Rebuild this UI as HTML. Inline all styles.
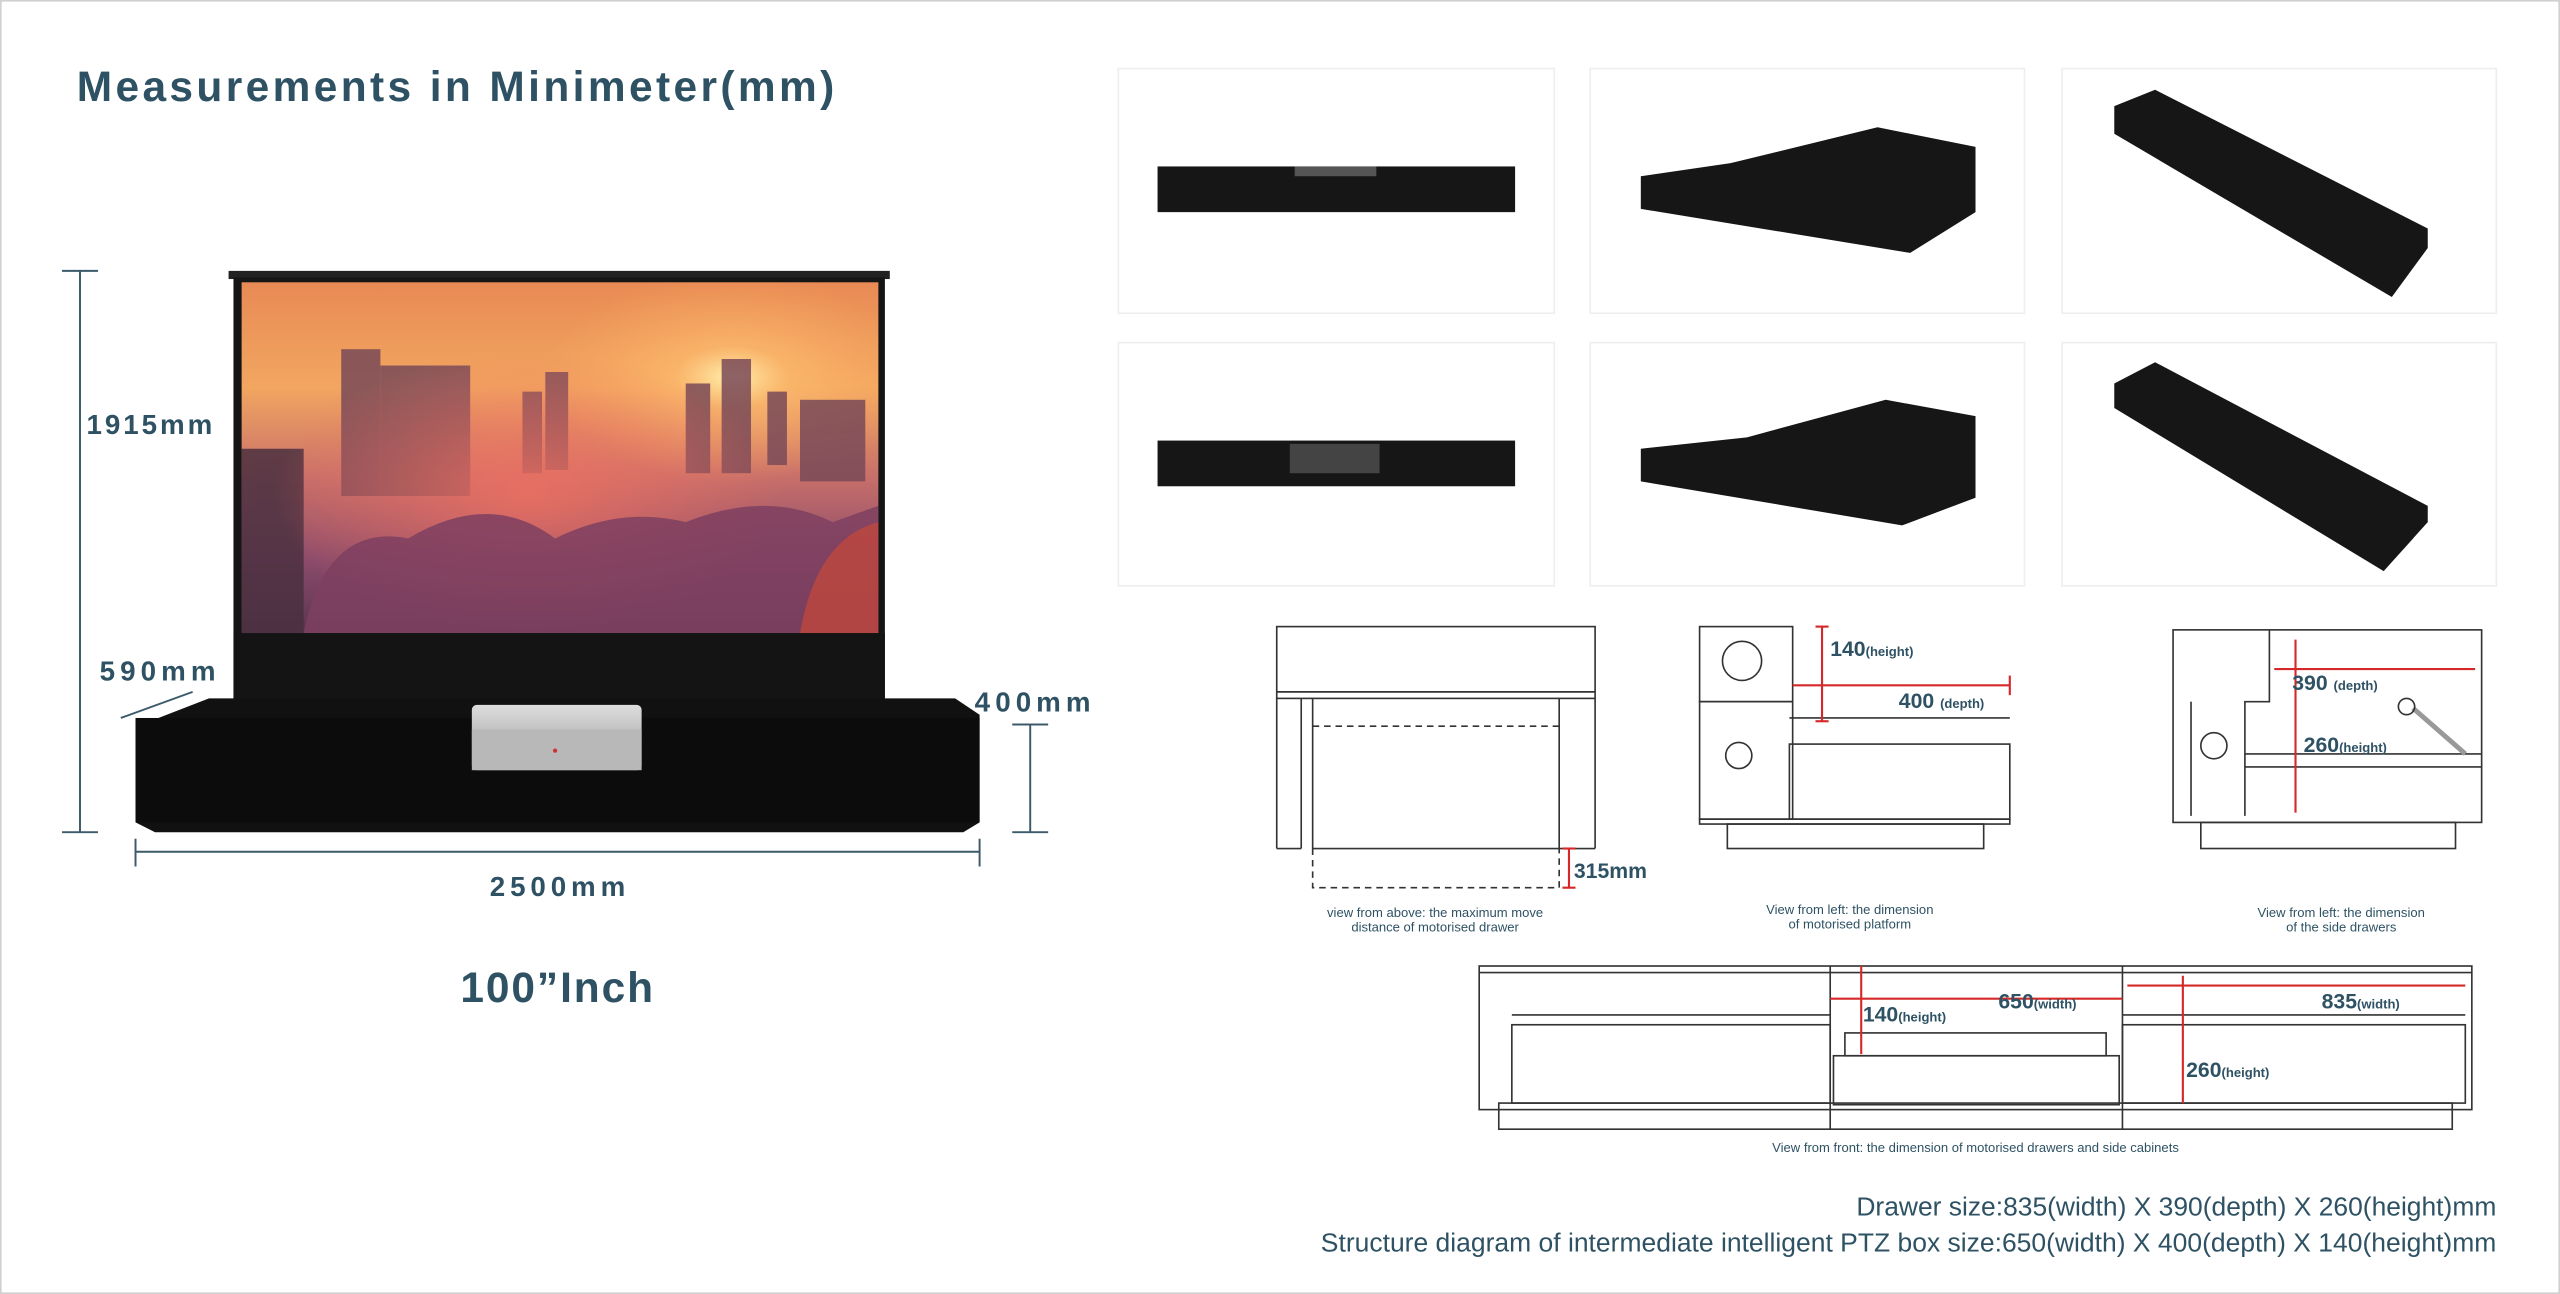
<!DOCTYPE html>
<html><head><meta charset="utf-8"><style>
html,body{margin:0;padding:0;background:#fff;}
svg{display:block;}
text{font-family:"Liberation Sans","DejaVu Sans",sans-serif;}
</style></head><body>
<svg width="2560" height="1294" viewBox="0 0 1568 793" preserveAspectRatio="none" xmlns="http://www.w3.org/2000/svg">
<defs>
<linearGradient id="sky" x1="0" y1="0" x2="0" y2="1">
<stop offset="0" stop-color="#e88a55"/><stop offset="0.3" stop-color="#f2a660"/><stop offset="0.55" stop-color="#c9706a"/><stop offset="0.8" stop-color="#8a4a6a"/><stop offset="1" stop-color="#5a3550"/></linearGradient>
<radialGradient id="sun" cx="0.77" cy="0.27" r="0.3"><stop offset="0" stop-color="#fff2b0"/><stop offset="0.3" stop-color="#ffc070" stop-opacity="0.6"/><stop offset="1" stop-color="#ffb060" stop-opacity="0"/></radialGradient>
<radialGradient id="fog" cx="0.45" cy="0.6" r="0.4"><stop offset="0" stop-color="#f07060" stop-opacity="0.8"/><stop offset="1" stop-color="#f07060" stop-opacity="0"/></radialGradient>
<linearGradient id="box" x1="0" y1="0" x2="0" y2="1"><stop offset="0" stop-color="#ddd"/><stop offset="1" stop-color="#999"/></linearGradient>
</defs>
<rect x="0.5" y="0.5" width="1567" height="792" fill="#fff" stroke="#d0d0d0"/>
<text x="47" y="62" font-size="26" font-weight="bold" fill="#2e5264" textLength="464" lengthAdjust="spacing">Measurements in Minimeter(mm)</text>

<!-- screen -->
<rect x="140" y="166" width="405" height="5" fill="#222"/>
<rect x="143" y="170" width="399" height="260" fill="#151515"/>
<rect x="148" y="173" width="390" height="215" fill="url(#sky)"/>
<rect x="148" y="173" width="390" height="215" fill="url(#sun)"/>
<g fill="#7a4a58" opacity="0.85">
<rect x="209" y="214" width="24" height="90"/><rect x="233" y="224" width="55" height="80"/>
<rect x="148" y="275" width="38" height="113" fill="#4a3040"/>
<rect x="320" y="240" width="12" height="50"/><rect x="334" y="228" width="14" height="60"/>
<rect x="442" y="220" width="18" height="70"/><rect x="420" y="235" width="15" height="55"/>
<rect x="470" y="240" width="12" height="45"/><rect x="490" y="245" width="40" height="50"/>
</g>
<rect x="148" y="173" width="390" height="215" fill="url(#fog)"/>
<path d="M186 388 Q200 320 250 330 Q300 300 340 330 Q380 310 420 320 Q470 300 510 320 L538 310 L538 388 Z" fill="#7e4060" opacity="0.85"/>
<path d="M490 388 Q500 330 538 320 L538 388Z" fill="#c84838" opacity="0.7"/>
<!-- cabinet -->
<rect x="143" y="388" width="399" height="42" fill="#141414"/>
<polygon points="97,440 128,428 585,428 600,438 600,504 590,510 95,510 83,504 83,440" fill="#111"/>
<rect x="83" y="440" width="517" height="64" fill="#0c0c0c"/>
<rect x="289" y="432" width="104" height="40" rx="3" fill="url(#box)"/>
<rect x="289" y="447" width="104" height="25" fill="#b8b8b8"/>
<circle cx="340" cy="460" r="1.3" fill="#d03030"/>

<!-- dimension lines -->
<g stroke="#3c5a6a" stroke-width="1.2" fill="none">
<line x1="49" y1="166" x2="49" y2="510"/><line x1="38" y1="166" x2="60" y2="166"/><line x1="38" y1="510" x2="60" y2="510"/>
<line x1="83" y1="522" x2="600" y2="522"/><line x1="83" y1="514" x2="83" y2="531"/><line x1="600" y1="514" x2="600" y2="531"/>
<line x1="631" y1="444" x2="631" y2="510"/><line x1="620" y1="444" x2="642" y2="444"/><line x1="620" y1="510" x2="642" y2="510"/>
<line x1="74" y1="440" x2="118" y2="424"/>
</g>
<g fill="#2e5264" font-weight="bold">
<text x="53" y="266" font-size="17" textLength="77" lengthAdjust="spacing">1915mm</text>
<text x="61" y="417" font-size="17" textLength="71" lengthAdjust="spacing">590mm</text>
<text x="597" y="436" font-size="17" textLength="71" lengthAdjust="spacing">400mm</text>
<text x="300" y="549" font-size="17" textLength="83" lengthAdjust="spacing">2500mm</text>
<text x="282" y="614" font-size="26" textLength="118" lengthAdjust="spacing">100”Inch</text>
</g>

<!-- thumbnails -->
<g fill="#fff" stroke="#eee">
<rect x="685" y="42" width="267" height="150"/><rect x="974" y="42" width="266" height="150"/><rect x="1263" y="42" width="266" height="150"/>
<rect x="685" y="210" width="267" height="149"/><rect x="974" y="210" width="266" height="149"/><rect x="1263" y="210" width="266" height="149"/>
</g>
<g fill="#161616">
<rect x="709" y="102" width="219" height="28"/><rect x="793" y="102" width="50" height="6" fill="#555"/>
<polygon points="1005,108 1060,100 1150,78 1210,90 1210,130 1170,155 1005,128"/>
<polygon points="1295,65 1320,55 1487,140 1487,152 1465,182 1295,82"/>
<rect x="709" y="270" width="219" height="28"/><rect x="790" y="272" width="55" height="18" fill="#444"/>
<polygon points="1005,275 1070,268 1155,245 1210,255 1210,305 1165,322 1005,295"/>
<polygon points="1295,235 1320,222 1487,310 1487,320 1460,350 1295,250"/>
</g>

<!-- technical diagrams -->
<g stroke="#333" stroke-width="1" fill="none">
<rect x="782" y="384" width="195" height="44"/><line x1="782" y1="424" x2="977" y2="424"/>
<line x1="782" y1="428" x2="782" y2="520"/><line x1="797" y1="428" x2="797" y2="520"/>
<line x1="955" y1="428" x2="955" y2="520"/><line x1="977" y1="428" x2="977" y2="520"/>
<line x1="782" y1="520" x2="797" y2="520"/><line x1="955" y1="520" x2="977" y2="520"/>
<line x1="804" y1="428" x2="804" y2="520"/><line x1="804" y1="520" x2="955" y2="520"/>
<path d="M804 445 H955" stroke-dasharray="4,3"/><path d="M804 520 V544 H955 V520" stroke-dasharray="4,3"/>

<rect x="1041" y="384" width="57" height="46"/><circle cx="1067" cy="405" r="12"/>
<rect x="1041" y="430" width="57" height="72"/><circle cx="1065" cy="463" r="8"/>
<rect x="1096" y="456" width="135" height="46"/><line x1="1096" y1="440" x2="1231" y2="440"/>
<rect x="1041" y="502" width="190" height="3"/><rect x="1058" y="505" width="157" height="15"/>

<rect x="1331" y="386" width="189" height="118"/>
<path d="M1390 386 V430 H1375 V500"/><line x1="1375" y1="462" x2="1520" y2="462"/><line x1="1375" y1="470" x2="1520" y2="470"/>
<circle cx="1356" cy="457" r="8"/><line x1="1342" y1="430" x2="1342" y2="500"/>
<rect x="1348" y="504" width="156" height="16"/>
<line x1="1478" y1="434" x2="1510" y2="462" stroke="#999" stroke-width="3"/><circle cx="1474" cy="433" r="5"/>

<rect x="906" y="592" width="608" height="88"/><line x1="906" y1="596" x2="1514" y2="596"/>
<rect x="918" y="676" width="584" height="16"/>
<line x1="1121" y1="592" x2="1121" y2="692"/><line x1="1300" y1="592" x2="1300" y2="692"/>
<rect x="926" y="628" width="195" height="48"/><line x1="926" y1="622" x2="1121" y2="622"/>
<rect x="1300" y="628" width="210" height="48"/><line x1="1300" y1="622" x2="1510" y2="622"/>
<rect x="1130" y="633" width="160" height="14"/><rect x="1123" y="647" width="175" height="30"/>
</g>
<g stroke="#d62828" stroke-width="1.3" fill="none">
<line x1="961" y1="520" x2="961" y2="544"/><line x1="957" y1="520" x2="965" y2="520"/><line x1="957" y1="544" x2="965" y2="544"/>
<line x1="1116" y1="384" x2="1116" y2="442"/><line x1="1112" y1="384" x2="1120" y2="384"/><line x1="1112" y1="442" x2="1120" y2="442"/>
<line x1="1098" y1="420" x2="1231" y2="420"/><line x1="1231" y1="414" x2="1231" y2="426"/>
<line x1="1406" y1="392" x2="1406" y2="498"/><line x1="1393" y1="410" x2="1516" y2="410"/>
<line x1="1140" y1="592" x2="1140" y2="646"/><line x1="1121" y1="612" x2="1300" y2="612"/>
<line x1="1303" y1="604" x2="1510" y2="604"/><line x1="1337" y1="598" x2="1337" y2="676"/>
</g>
<g fill="#2e5264" font-weight="bold">
<text x="964" y="538" font-size="13">315mm</text>
<text x="1121" y="402" font-size="13">140<tspan font-size="8">(height)</tspan></text>
<text x="1163" y="434" font-size="13">400 <tspan font-size="8">(depth)</tspan></text>
<text x="1404" y="423" font-size="13">390 <tspan font-size="8">(depth)</tspan></text>
<text x="1411" y="461" font-size="13">260<tspan font-size="8">(height)</tspan></text>
<text x="1141" y="626" font-size="13">140<tspan font-size="8">(height)</tspan></text>
<text x="1224" y="618" font-size="13">650<tspan font-size="8">(width)</tspan></text>
<text x="1422" y="618" font-size="13">835<tspan font-size="8">(width)</tspan></text>
<text x="1339" y="660" font-size="13">260<tspan font-size="8">(height)</tspan></text>
</g>
<g fill="#2e5264" font-size="8" text-anchor="middle">
<text x="879" y="562">view from above: the maximum move</text><text x="879" y="571">distance of motorised drawer</text>
<text x="1133" y="560">View from left: the dimension</text><text x="1133" y="569">of motorised platform</text>
<text x="1434" y="562">View from left: the dimension</text><text x="1434" y="571">of the side drawers</text>
<text x="1210" y="706">View from front: the dimension of motorised drawers and side cabinets</text>
</g>
<g fill="#2e5264" font-size="16">
<text x="1137" y="745" textLength="392" lengthAdjust="spacingAndGlyphs">Drawer size:835(width) X 390(depth) X 260(height)mm</text>
<text x="809" y="767" textLength="720" lengthAdjust="spacingAndGlyphs">Structure diagram of intermediate intelligent PTZ box size:650(width) X 400(depth) X 140(height)mm</text>
</g>
</svg>
</body></html>
